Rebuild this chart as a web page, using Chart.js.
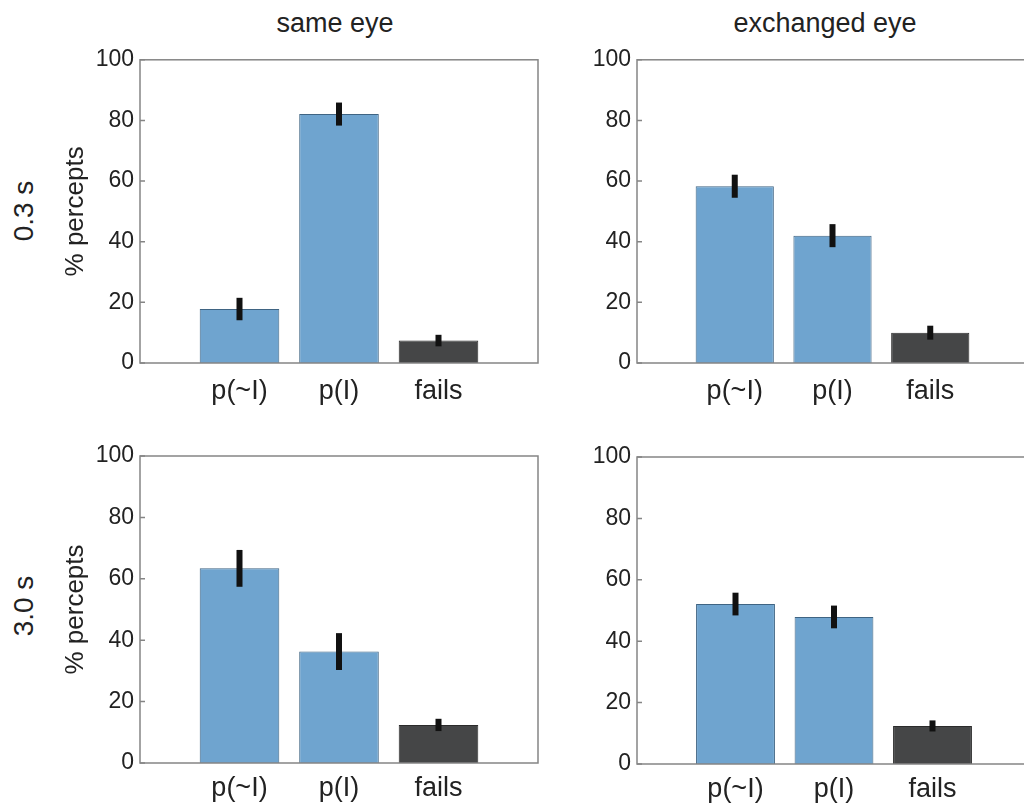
<!DOCTYPE html>
<html>
<head>
<meta charset="utf-8">
<script src="https://cdn.jsdelivr.net/npm/chart.js@4.4.0/dist/chart.umd.min.js"></script>
<style>
  body { margin: 0; width: 1024px; height: 804px; overflow: hidden; position: relative; background: #fff;
         font-family: 'Liberation Sans', Arial, sans-serif; color: #222; }
  canvas { position: absolute; }
  .lbl { position: absolute; text-align: center; white-space: nowrap; }
  .rot { transform: rotate(-90deg); }
</style>
</head>
<body>
<div class="lbl" style="left:235px; top:8px; width:200px; height:30px; line-height:30px; font-size:27px;">same eye</div>
<div class="lbl" style="left:725px; top:8px; width:200px; height:30px; line-height:30px; font-size:27px;">exchanged eye</div>
<div class="lbl rot" style="left:-26px; top:196px; width:100px; height:30px; line-height:30px; font-size:28px;">0.3 s</div>
<div class="lbl rot" style="left:-26px; top:591px; width:100px; height:30px; line-height:30px; font-size:28px;">3.0 s</div>

<canvas id="tl" width="560" height="380" style="left:0; top:40px;"></canvas>
<canvas id="tr" width="520" height="380" style="left:520px; top:40px;"></canvas>
<canvas id="bl" width="560" height="384" style="left:0; top:420px;"></canvas>
<canvas id="br" width="520" height="384" style="left:520px; top:420px;"></canvas>

<script>
// categories and values
const categories = ['p(~I)', 'p(I)', 'fails'];
const yTicks = [0, 20, 40, 60, 80, 100];

const same03 = [17.8, 82.1, 7.4];
const same03Err = [3.7, 3.8, 1.9];
const exch03 = [58.3, 42.0, 10.0];
const exch03Err = [3.8, 3.8, 2.3];
const same30 = [63.4, 36.3, 12.4];
const same30Err = [6.0, 6.0, 2.0];
const exch30 = [52.1, 47.9, 12.4];
const exch30Err = [3.7, 3.7, 1.8];

const blue = '#6fa4cf';
const blueEdge = '#3f6483';
const dark = '#454647';
const darkEdge = '#2b2b2b';
const fontFam = "'Liberation Sans', Arial, sans-serif";

// box around plot area + small inward ticks + error bars
const boxPlugin = {
  id: 'box',
  afterDatasetsDraw(chart) {
    const ctx = chart.ctx;
    const a = chart.chartArea;
    const y = chart.scales.y;
    const x = chart.scales.x;
    const errs = chart.options.plugins.box.errs;
    const vals = chart.data.datasets[0].data;

    ctx.save();
    // error bars
    ctx.strokeStyle = '#111';
    ctx.lineWidth = 6;
    vals.forEach((v, i) => {
      if (v == null) return;
      const e = errs[i - 1];
      const px = x.getPixelForValue(i);
      ctx.beginPath();
      ctx.moveTo(px, y.getPixelForValue(v + e));
      ctx.lineTo(px, y.getPixelForValue(v - e));
      ctx.stroke();
    });

    // frame
    ctx.strokeStyle = '#858585';
    ctx.lineWidth = 1.5;
    ctx.strokeRect(a.left, a.top, a.right - a.left, a.bottom - a.top);
    ctx.beginPath();
    yTicks.forEach(t => {
      const py = y.getPixelForValue(t);
      ctx.moveTo(a.left, py);
      ctx.lineTo(a.left + 5, py);
    });
    ctx.stroke();
    ctx.restore();
  }
};

function makePanel(id, vals, errs, showTitle, area) {
  const labels = ['', ...categories, ''];
  const data = [null, ...vals, null];
  new Chart(document.getElementById(id), {
    type: 'bar',
    data: {
      labels: labels,
      datasets: [{
        data: data,
        backgroundColor: labels.map(l => l === 'fails' ? dark : blue),
        borderColor: labels.map(l => l === 'fails' ? darkEdge : blueEdge),
        borderWidth: 1,
        barPercentage: 0.8,
        categoryPercentage: 1.0
      }]
    },
    options: {
      responsive: false,
      animation: false,
      devicePixelRatio: 1,
      layout: { padding: { top: area.top, right: area.right, left: 0, bottom: 0 } },
      plugins: {
        legend: { display: false },
        tooltip: { enabled: false },
        box: { errs: errs }
      },
      scales: {
        x: {
          type: 'category',
          offset: false,
          grid: { display: false, drawTicks: false },
          border: { display: false },
          ticks: {
            autoSkip: false, maxRotation: 0, padding: area.xpad,
            color: '#222', font: { family: fontFam, size: 27 }
          },
          afterFit: s => { s.height = area.xh; }
        },
        y: {
          min: 0, max: 100,
          grid: { display: false, drawTicks: false },
          border: { display: false },
          ticks: {
            stepSize: 20, padding: 6,
            color: '#222', font: { family: fontFam, size: 23 }
          },
          title: {
            display: showTitle, text: '% percepts', color: '#222',
            font: { family: fontFam, size: 26 },
            padding: { top: 60, bottom: 0 }
          },
          afterFit: s => { s.width = area.yw; }
        }
      }
    },
    plugins: [boxPlugin]
  });
}

makePanel('tl', same03, same03Err, true,  { top: 17, right: 22, yw: 140, xh: 57, xpad: 12 });
makePanel('tr', exch03, exch03Err, false, { top: 17, right: 5,  yw: 117, xh: 57, xpad: 12 });
makePanel('bl', same30, same30Err, true,  { top: 36, right: 22, yw: 140, xh: 41, xpad: 9 });
makePanel('br', exch30, exch30Err, false, { top: 37, right: 5,  yw: 117, xh: 40, xpad: 9 });
</script>
</body>
</html>
